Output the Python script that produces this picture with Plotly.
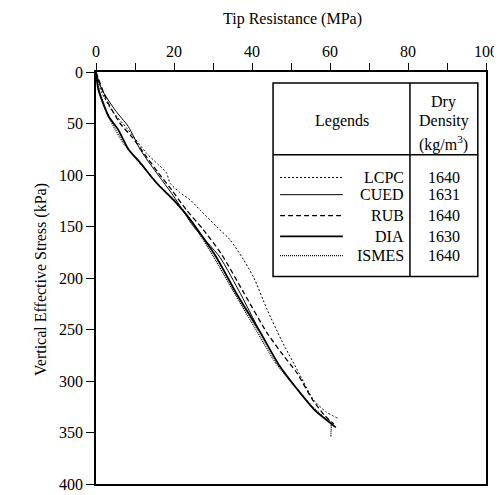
import plotly.graph_objects as go

# ---- data ----
x_ticks = [0, 20, 40, 60, 80, 100]
x_tick_labels = ["0", "20", "40", "60", "80", "100"]
x_minor_step = 10
y_ticks = [0, 50, 100, 150, 200, 250, 300, 350, 400]

lcpc_q = [0, 1.5, 4, 8, 13, 16, 18.1, 19, 21.5, 24.1, 26.7, 30.9, 34.4, 37.8, 40.5, 43.8, 47.5, 52, 55.7, 59, 61.9]
lcpc_s = [0, 20, 37, 55, 79, 90, 98, 108, 117, 124, 134, 150, 163, 182, 200, 230, 260, 292, 318, 330, 336]

cued_q = [0, 1.5, 4.9, 8.3, 11.3, 14, 19.8, 25, 31.8, 37, 42]
cued_s = [0, 17, 37, 53, 75, 90, 120, 150, 180, 215, 252]

rub_q = [0, 2.7, 6.2, 9.2, 12.5, 16, 19.5, 23.2, 27.5, 32.2, 38, 43.8, 48, 51.5, 55.5, 58.5, 61]
rub_s = [0, 27, 50, 63, 80, 98, 115, 134, 153, 177, 215, 253, 275, 292, 318, 333, 342]

dia_q = [0, 0.6, 3.2, 5.7, 8.3, 11.3, 15.6, 19.8, 24.1, 30.9, 36, 42, 47, 52, 56, 61.5]
dia_s = [0, 17, 43, 56, 75, 88, 108, 124, 143, 180, 215, 252, 285, 310, 328, 345]

ismes_q = [0, 1, 3.6, 7, 12.1, 15.6, 20.7, 24.1, 30.1, 36, 41, 46, 51, 55.5, 59, 60.2, 60.2]
ismes_s = [0, 20, 46, 69, 92, 108, 127, 143, 179, 218, 250, 282, 305, 325, 337, 340, 354]

names = ["LCPC", "CUED", "RUB", "DIA", "ISMES"]
densities = ["1640", "1631", "1640", "1630", "1640"]

series = [
    (lcpc_q, lcpc_s, dict(color="black", width=1, dash="2px,2px")),
    (cued_q, cued_s, dict(color="black", width=1, dash="solid")),
    (rub_q, rub_s, dict(color="black", width=1.3, dash="5px,3px")),
    (dia_q, dia_s, dict(color="black", width=1.8, dash="solid")),
    (ismes_q, ismes_s, dict(color="black", width=1.3, dash="1px,1px")),
]

FONT = "Liberation Serif"
fig = go.Figure()
for (q, s, ln), nm in zip(series, names):
    fig.add_trace(go.Scatter(x=q, y=s, mode="lines", line=ln, name=nm,
                             showlegend=False, line_shape="spline",
                             line_smoothing=0.6))

# ---- legend table drawn as shapes/annotations ----
tx0, tx1, tdiv = 45.4, 97.9, 80.5
ty0, ty1, thdiv = 10.7, 198.5, 80.4
shapes = [
    dict(type="rect", xref="x", yref="y", x0=tx0, x1=tx1, y0=ty0, y1=ty1,
         line=dict(color="black", width=1.5), fillcolor="white", layer="above"),
    dict(type="line", xref="x", yref="y", x0=tdiv, x1=tdiv, y0=ty0, y1=ty1,
         line=dict(color="black", width=1.5)),
    dict(type="line", xref="x", yref="y", x0=tx0, x1=tx1, y0=thdiv, y1=thdiv,
         line=dict(color="black", width=1.5)),
]
row_y = [102.4, 119.1, 139.5, 159.5, 178.2]
for (q, s, ln), ry in zip(series, row_y):
    shapes.append(dict(type="line", xref="x", yref="y", x0=47.2, x1=63.3, y0=ry, y1=ry,
                       line=dict(color="black", width=ln["width"], dash=ln["dash"])))

fnt = dict(family=FONT, size=16, color="black")
fig.add_annotation(x=(tx0 + tdiv) / 2, y=48, xref="x", yref="y", text="Legends",
                   showarrow=False, font=fnt)
fig.add_annotation(x=(tdiv + tx1) / 2, y=28.7, xref="x", yref="y", text="Dry",
                   showarrow=False, font=fnt)
fig.add_annotation(x=(tdiv + tx1) / 2, y=48, xref="x", yref="y", text="Density",
                   showarrow=False, font=fnt)
fig.add_annotation(x=(tdiv + tx1) / 2, y=69, xref="x", yref="y", text="(kg/m<sup>3</sup>)",
                   showarrow=False, font=fnt)
for nm, d, ry in zip(names, densities, row_y):
    fig.add_annotation(x=79.6, y=ry, xref="x", yref="y", text=nm, showarrow=False,
                       xanchor="right", font=fnt)
    fig.add_annotation(x=(tdiv + tx1) / 2, y=ry, xref="x", yref="y", text=d,
                       showarrow=False, font=fnt)

fig.add_annotation(x=(292 - 96) / 390, y=1.0, xref="paper", yref="paper",
                   yanchor="middle", yshift=53, text="Tip Resistance (MPa)",
                   showarrow=False, font=dict(family=FONT, size=16, color="black"))
fig.add_annotation(x=-(96 - 30) / 390, y=(484 - 280) / 412, xref="paper", yref="paper",
                   textangle=-90, text="Vertical Effective Stress (kPa)",
                   showarrow=False, font=dict(family=FONT, size=16, color="black"))

# page body has an 8px margin, so the figure is placed at (8, 8)
fig.update_layout(
    width=494, height=487,
    margin=dict(l=88, r=16, t=64, b=11),
    paper_bgcolor="white", plot_bgcolor="white",
    shapes=shapes,
    showlegend=False,
)

fig.update_xaxes(
    side="top", range=[0, 100], tickvals=x_ticks, ticktext=x_tick_labels,
    ticks="outside", ticklen=7, tickwidth=1.2, tickcolor="black",
    minor=dict(dtick=x_minor_step, tick0=0, ticks="outside", ticklen=7,
               tickwidth=1.2, tickcolor="black", showgrid=False),
    showline=True, linecolor="black", linewidth=1.5, mirror=True,
    showgrid=False, zeroline=False, automargin=False,
    tickfont=dict(family=FONT, size=16, color="black"),
)
fig.update_yaxes(
    range=[400, 0], tickvals=y_ticks,
    ticks="outside", ticklen=8, tickwidth=1.2, tickcolor="black",
    showline=True, linecolor="black", linewidth=1.5, mirror=True,
    showgrid=False, zeroline=False, automargin=False,
    tickfont=dict(family=FONT, size=16, color="black"),
)

fig.write_html("out.html")
